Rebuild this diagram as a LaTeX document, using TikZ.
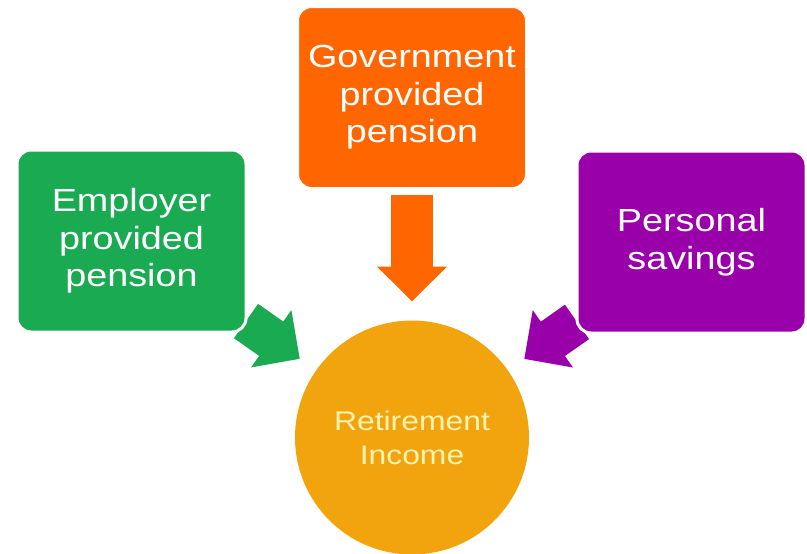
\documentclass[tikz,border=0pt]{standalone}
\usepackage{fontspec}
\setmainfont{Liberation Sans}[FakeStretch=1.18]
\usetikzlibrary{positioning}
\usetikzlibrary{arrows.meta}
\usetikzlibrary{backgrounds}
\usepackage{xcolor}

\definecolor{empgreen}{RGB}{26,170,82}
\definecolor{govorange}{RGB}{255,102,0}
\definecolor{savpurple}{RGB}{154,0,170}
\definecolor{incgold}{RGB}{242,164,14}
\definecolor{inctext}{RGB}{255,243,176}

\tikzset{
  srcbox/.style={rectangle, rounded corners=14pt, draw=white, line width=3pt, minimum width=229pt, minimum height=182pt, inner sep=0pt, outer sep=0pt, align=center, text=white, font=\fontsize{32}{37.5}\selectfont},
  flowarrow/.style={line width=42pt, -{Triangle[length=35pt,width=68pt]}},
}

\begin{document}
\begin{tikzpicture}[x=1pt,y=-1pt]

\useasboundingbox (0,0) rectangle (807,554);

\node[srcbox, fill=empgreen] (employer) at (131.5,241) {Employer\\provided\\pension};
\node[srcbox, fill=govorange] (government) at (412,97.5) {Government\\provided\\pension};
\node[srcbox, fill=savpurple] (savings) at (691.5,242) {Personal\\savings};

\node[circle, fill=incgold, minimum size=234pt, inner sep=0pt, outer sep=0pt, align=center, text=inctext, font=\fontsize{27}{34}\selectfont] (income) at (412,437.5) {Retirement\\Income};

\begin{scope}[on background layer]
\draw[flowarrow, empgreen, shorten >=20pt] (employer) -- (income);
\draw[flowarrow, govorange, shorten <=6pt, shorten >=19pt] (government) -- (income);
\draw[flowarrow, savpurple, shorten >=20pt] (savings) -- (income);
\end{scope}

\end{tikzpicture}
\end{document}
